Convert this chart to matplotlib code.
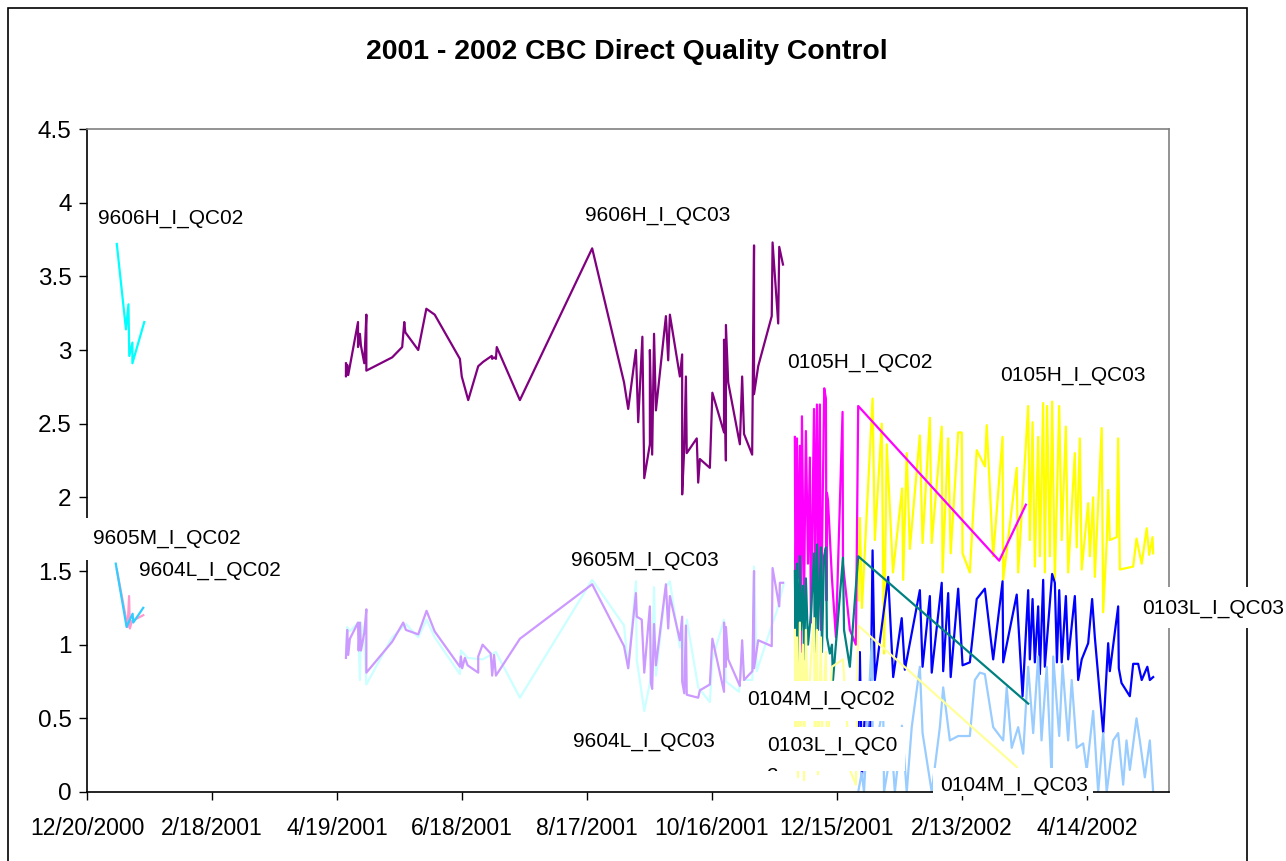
import pandas as pd
import matplotlib
matplotlib.use("Agg")
import matplotlib.pyplot as plt
from matplotlib.patches import Rectangle
from matplotlib.ticker import FixedLocator, FuncFormatter

plt.rcParams['font.family'] = ['Liberation Sans', 'DejaVu Sans']

START = pd.Timestamp("2000-12-20")

# days after 12/20/2000 and QC values, one pair of lists per control lot
h02_day = [14.3, 18.7, 19.9, 20.3, 21.8, 21.8, 27.5]
h02_val = [3.72, 3.14, 3.31, 2.96, 3.05, 2.91, 3.19]

m02_day = [14.3, 19.5, 20.2, 20.6, 21.5, 27.0]
m02_val = [1.51, 1.12, 1.33, 1.11, 1.16, 1.20]

l02_day = [13.8, 19.0, 21.9, 22.2, 27.0]
l02_val = [1.55, 1.12, 1.21, 1.15, 1.25]

h03_day = [124.3, 124.3, 124.9, 125.4, 130.1, 130.1, 131.0, 131.5, 133.1, 134.1,
           134.1, 146.5, 151.3, 152.3, 152.8, 159.0, 162.9, 166.9, 179.0, 179.9,
           183.0, 187.8, 190.2, 194.3, 194.5, 195.4, 196.3, 196.7, 207.8, 242.5,
           257.8, 259.8, 263.5, 264.6, 266.6, 267.5, 270.2, 270.2, 271.3, 272.2,
           273.1, 277.9, 279.0, 279.8, 284.6, 285.7, 285.7, 286.7, 287.5, 287.9,
           292.7, 293.4, 294.2, 299.0, 300.2, 305.8, 305.8, 306.7, 306.7, 307.8,
           313.4, 314.5, 315.4, 319.3, 320.2, 320.2, 322.2, 328.7, 329.1, 331.8,
           332.3, 334.1]
h03_val = [2.91, 2.82, 2.90, 2.83, 3.19, 3.02, 3.11, 3.03, 2.91, 3.24,
           2.86, 2.95, 3.02, 3.19, 3.12, 3.00, 3.28, 3.24, 2.94, 2.82,
           2.66, 2.89, 2.92, 2.96, 2.94, 2.95, 2.94, 3.02, 2.66, 3.69,
           2.78, 2.60, 3.00, 2.51, 3.09, 2.13, 2.36, 3.00, 2.29, 3.11,
           2.59, 3.23, 2.93, 3.24, 2.82, 2.97, 2.02, 2.33, 2.82, 2.30,
           2.40, 2.10, 2.26, 2.20, 2.71, 2.44, 3.07, 2.25, 3.17, 2.78,
           2.36, 2.82, 2.43, 2.29, 3.71, 2.70, 2.89, 3.23, 3.73, 3.18,
           3.70, 3.58]

l03_day = [124.3, 124.9, 126.2, 130.1, 131.0, 131.5, 133.1, 134.1, 146.5, 153.1,
           159.0, 163.0, 166.9, 179.0, 179.5, 182.7, 189.9, 196.3, 207.8, 242.5,
           257.8, 259.8, 263.5, 263.9, 267.5, 270.2, 271.3, 272.2, 273.1, 277.9,
           279.8, 284.6, 285.7, 286.7, 287.9, 293.4, 299.0, 300.2, 305.8, 306.7,
           313.0, 314.5, 315.4, 319.4, 320.2, 321.5, 328.7, 331.2, 334.6]
l03_val = [0.93, 1.12, 1.09, 1.15, 0.76, 1.15, 1.02, 0.73, 1.05, 1.14,
           1.05, 1.17, 1.05, 0.80, 0.96, 0.91, 0.90, 0.95, 0.64, 1.44,
           1.13, 0.84, 1.43, 0.90, 0.55, 0.74, 0.90, 1.39, 0.79, 1.39,
           1.43, 0.98, 1.17, 0.75, 1.17, 0.71, 0.61, 0.90, 1.17, 0.75,
           0.68, 0.98, 0.76, 0.76, 1.53, 0.82, 1.13, 1.23, 1.42]

m03_day = [124.3, 124.9, 125.4, 126.2, 130.1, 130.4, 131.0, 131.5, 133.1, 134.1,
           134.1, 146.5, 151.8, 153.1, 159.0, 163.0, 166.9, 179.0, 179.5, 180.1,
           181.4, 182.7, 187.8, 187.8, 189.9, 193.8, 194.5, 195.4, 196.3, 207.8,
           242.5, 257.8, 259.8, 263.5, 263.9, 266.3, 267.5, 270.2, 270.7, 271.3,
           272.2, 273.1, 277.9, 279.0, 279.8, 284.6, 285.7, 285.7, 286.7, 287.5,
           287.9, 293.4, 294.2, 299.0, 300.2, 305.8, 305.8, 306.7, 306.7, 307.8,
           313.4, 314.5, 315.4, 319.4, 320.2, 320.2, 322.2, 328.7, 329.1, 332.3,
           332.6, 334.1]
m03_val = [0.91, 1.10, 0.93, 1.04, 1.15, 0.96, 1.15, 0.96, 1.08, 1.24,
           0.81, 1.02, 1.15, 1.10, 1.07, 1.23, 1.09, 0.85, 0.92, 0.84,
           0.91, 0.86, 0.81, 0.92, 1.00, 0.94, 0.79, 0.93, 0.79, 1.04,
           1.41, 0.99, 0.84, 1.35, 1.19, 1.17, 0.81, 1.26, 0.74, 0.70,
           1.14, 0.86, 1.41, 1.11, 1.33, 1.03, 1.19, 0.75, 0.67, 1.13,
           0.66, 0.64, 0.69, 0.73, 1.04, 0.68, 1.15, 0.85, 1.12, 0.90,
           0.72, 1.03, 0.76, 0.82, 1.50, 0.84, 1.03, 0.99, 1.52, 1.26,
           1.42, 1.42]

y03_day = [370.2, 371.0, 372.0, 377.1, 378.2, 381.5, 382.6, 383.9, 386.9, 391.3,
           391.8, 393.5, 395.0, 399.8, 401.1, 404.6, 405.5, 410.3, 410.7, 413.4,
           414.6, 418.2, 419.9, 420.3, 423.8, 427.1, 431.0, 431.9, 435.0, 439.5,
           439.8, 446.3, 447.0, 451.8, 452.6, 453.9, 455.0, 456.6, 457.4, 459.0,
           459.8, 460.9, 462.2, 463.3, 464.6, 466.7, 467.9, 469.9, 471.0, 474.2,
           475.1, 476.6, 477.5, 480.6, 481.4, 483.0, 483.8, 487.1, 487.8, 489.5,
           490.2, 491.0, 494.3, 495.0, 495.8, 502.2, 503.8, 506.3, 508.7, 509.9,
           511.5, 511.8]
y03_val = [1.30, 1.86, 1.25, 2.67, 1.71, 2.50, 0.94, 2.36, 1.49, 2.06,
           1.44, 2.30, 1.65, 2.42, 1.69, 2.54, 1.69, 2.48, 1.49, 2.40,
           1.62, 2.44, 2.44, 1.62, 1.49, 2.32, 2.21, 2.49, 1.60, 2.41,
           1.44, 2.20, 1.49, 2.62, 1.71, 2.51, 1.53, 2.41, 1.60, 2.64,
           1.49, 2.62, 1.60, 2.65, 1.44, 2.62, 1.71, 2.48, 1.49, 2.30,
           1.66, 2.40, 1.51, 1.96, 1.60, 2.00, 1.46, 2.47, 1.22, 1.70,
           2.05, 1.71, 1.73, 2.40, 1.51, 1.53, 1.72, 1.55, 1.79, 1.61,
           1.73, 1.62]

b03_day = [370.2, 371.0, 372.0, 373.9, 375.8, 377.1, 378.2, 384.6, 387.0, 391.1,
           392.6, 399.8, 401.1, 404.6, 405.5, 410.3, 411.0, 413.4, 414.6, 418.2,
           420.3, 423.8, 427.1, 431.0, 435.0, 439.5, 439.8, 446.3, 449.1, 451.8,
           452.6, 453.9, 455.0, 456.6, 457.4, 459.0, 459.8, 463.3, 464.6, 465.6,
           466.7, 467.9, 469.9, 471.0, 474.2, 475.8, 477.5, 480.6, 482.5, 483.8,
           487.8, 490.2, 491.0, 495.0, 495.3, 496.6, 500.6, 502.2, 504.6, 506.3,
           509.0, 510.2, 511.8]
b03_val = [0.30, 0.95, 0.10, 0.70, 0.20, 1.64, 0.76, 1.46, 0.78, 1.18,
           0.83, 1.37, 0.85, 1.33, 0.81, 1.42, 0.82, 1.35, 0.78, 1.38,
           0.86, 0.88, 1.31, 1.38, 0.90, 1.43, 0.88, 1.34, 0.65, 1.37,
           0.90, 1.31, 0.88, 1.26, 0.80, 1.44, 0.85, 1.48, 1.42, 0.88,
           1.37, 0.88, 1.33, 0.90, 1.33, 0.76, 0.90, 1.01, 1.31, 1.05,
           0.40, 1.01, 0.82, 1.26, 0.84, 0.74, 0.65, 0.87, 0.87, 0.76,
           0.85, 0.76, 0.78]

lb03_day = [370.2, 371.9, 373.0, 376.7, 377.3, 382.2, 382.6, 386.3, 387.8, 391.2,
            393.5, 395.9, 399.8, 401.1, 405.5, 409.4, 411.0, 414.2, 418.2, 423.8,
            426.2, 428.6, 431.0, 435.0, 439.8, 441.5, 443.9, 447.0, 449.4, 451.8,
            454.2, 456.6, 458.2, 460.7, 463.1, 463.8, 466.7, 468.3, 471.0, 472.7,
            475.1, 478.2, 479.9, 483.0, 485.4, 487.8, 489.5, 492.6, 495.0, 497.4,
            499.0, 500.6, 503.8, 505.4, 507.8, 510.2, 511.8]
lb03_val = [0.00, 0.13, 0.00, 1.03, 0.20, 0.58, 0.00, 0.31, 0.00, 0.45,
            0.00, 0.44, 0.85, 0.40, 0.00, 0.44, 0.71, 0.35, 0.38, 0.38,
            0.76, 0.81, 0.80, 0.44, 0.35, 0.71, 0.30, 0.44, 0.26, 0.85,
            0.40, 0.92, 0.35, 0.85, 0.08, 0.92, 0.38, 0.86, 0.35, 0.76,
            0.30, 0.33, 0.15, 0.55, 0.00, 0.40, 0.00, 0.35, 0.40, 0.05,
            0.35, 0.15, 0.50, 0.35, 0.10, 0.35, 0.00]

mg02_day = [339.8, 340.1, 340.8, 341.3, 342.2, 342.7, 343.2, 344.2, 345.1, 346.1,
            347.0, 347.5, 349.0, 349.4, 350.4, 350.9, 351.8, 352.3, 353.9, 354.7,
            355.0, 355.2, 355.7, 357.6, 359.5, 362.7, 362.9, 366.2, 369.1, 370.2,
            437.9, 450.7]
mg02_val = [2.41, 1.20, 2.40, 1.45, 2.35, 0.95, 2.55, 1.30, 2.45, 1.55,
            2.27, 1.15, 2.60, 1.50, 2.63, 1.40, 2.63, 1.10, 2.74, 2.67,
            1.30, 2.03, 1.98, 1.45, 1.05, 2.58, 1.55, 1.10, 1.00, 2.62,
            1.57, 1.95]

tl02_day = [339.8, 340.1, 340.8, 341.3, 342.2, 342.7, 343.7, 344.2, 345.1, 346.1,
            347.5, 349.0, 349.4, 350.4, 350.9, 352.3, 352.8, 353.8, 354.7, 355.2,
            356.6, 357.6, 358.1, 362.9, 363.4, 366.2, 370.2, 451.8]
tl02_val = [1.50, 1.05, 1.55, 0.85, 1.60, 1.10, 1.40, 0.90, 1.45, 1.00,
            1.20, 1.62, 0.95, 1.68, 1.10, 1.66, 0.95, 1.60, 1.66, 1.05,
            0.94, 1.00, 0.76, 1.59, 1.10, 0.85, 1.60, 0.60]

ly02_day = [339.8, 340.1, 340.8, 341.3, 342.2, 342.7, 343.7, 344.2, 345.1, 346.1,
            347.5, 349.0, 349.4, 350.4, 350.9, 352.3, 352.8, 354.7, 355.2, 357.6,
            362.9, 366.2, 369.1, 370.2, 446.3, 447.8]
ly02_val = [1.10, 0.30, 1.05, 0.10, 1.15, 0.45, 1.00, 0.08, 1.10, 0.50,
            0.90, 1.18, 0.30, 1.10, 0.12, 1.05, 0.40, 0.95, 0.20, 0.85,
            0.90, 0.15, 0.05, 1.13, 0.17, 0.12]

series = [
    (h02_day, h02_val, "#00FFFF"),
    (m02_day, m02_val, "#FF99CC"),
    (l02_day, l02_val, "#33CCFF"),
    (h03_day, h03_val, "#800080"),
    (l03_day, l03_val, "#CCFFFF"),
    (m03_day, m03_val, "#CC99FF"),
    (y03_day, y03_val, "#FFFF00"),
    (b03_day, b03_val, "#0000FF"),
    (lb03_day, lb03_val, "#99CCFF"),
    (mg02_day, mg02_val, "#FF00FF"),
    (tl02_day, tl02_val, "#008080"),
    (ly02_day, ly02_val, "#FFFF99"),
]

W, H = 1286, 861
fig = plt.figure(figsize=(W / 100, H / 100), dpi=100)


def fx(px):
    return px / W


def fy(py):
    return 1 - py / H


ax = fig.add_axes([fx(87), fy(792), fx(1169) - fx(87), fy(129) - fy(792)])

for day, val, col in series:
    ax.plot(day, val, color=col, lw=1.6)

ax.set_xlim(0, 519.4)
ax.set_ylim(0, 4.5)

tick_days = list(range(0, 481, 60))
ax.xaxis.set_major_locator(FixedLocator(tick_days))
ax.xaxis.set_major_formatter(FuncFormatter(
    lambda d, pos: (lambda t: f"{t.month}/{t.day}/{t.year}")(START + pd.Timedelta(days=d))))
ax.yaxis.set_major_locator(FixedLocator([i * 0.5 for i in range(10)]))
ax.yaxis.set_major_formatter(FuncFormatter(lambda v, pos: f"{v:g}"))

ax.tick_params(axis='both', direction='out', length=6, width=1)
ax.tick_params(axis='x', pad=12, labelsize=16.5)
ax.tick_params(axis='y', pad=5, labelsize=17.5)
for s in ('top', 'right'):
    ax.spines[s].set_color('#808080')
for s in ('left', 'bottom'):
    ax.spines[s].set_color('black')
for s in ax.spines.values():
    s.set_linewidth(1.2)

fig.text(fx(627), fy(52), "2001 - 2002 CBC Direct Quality Control",
         ha='center', va='center', fontsize=20.4, fontweight='bold')

# chart area frame
fig.add_artist(Rectangle((fx(8), fy(900)), fx(1247) - fx(8), fy(8) - fy(900),
                         transform=fig.transFigure, fill=False, ec='black', lw=1.2))


def label(text, x0, y0, x1, y1, tx, ty):
    box = Rectangle((fx(x0), fy(y1)), fx(x1) - fx(x0), fy(y0) - fy(y1),
                    transform=fig.transFigure, fc='white', ec='none', zorder=5)
    fig.add_artist(box)
    t = fig.text(fx(tx), fy(ty + 7.5), text, ha='left', va='baseline',
                 fontsize=15, zorder=6)
    t.set_clip_path(box)


label("9606H_I_QC02", 92, 200, 250, 233, 98, 216)
label("9606H_I_QC03", 579, 197, 735, 230, 585, 213)
label("9605M_I_QC02", 84, 518, 245, 560, 93, 536)
label("9604L_I_QC02", 134, 552, 284, 585, 139, 568)
label("9605M_I_QC03", 565, 542, 721, 575, 571, 558)
label("9604L_I_QC03", 567, 723, 719, 756, 573, 739)
label("0105H_I_QC02", 781, 344, 936, 376, 787, 360)
label("0105H_I_QC03", 995, 357, 1149, 390, 1000, 373)
label("0103L_I_QC03", 1136, 587, 1286, 628, 1142, 606)
label("0104M_I_QC02", 741, 681, 905, 721, 747, 697)
label("0103L_I_QC0", 745, 727, 905, 771, 767, 743)
label("2", 745, 727, 905, 771, 767, 775)
label("0104M_I_QC03", 933, 768, 1093, 796, 940, 783)

fig.savefig("out.png", dpi=100)
